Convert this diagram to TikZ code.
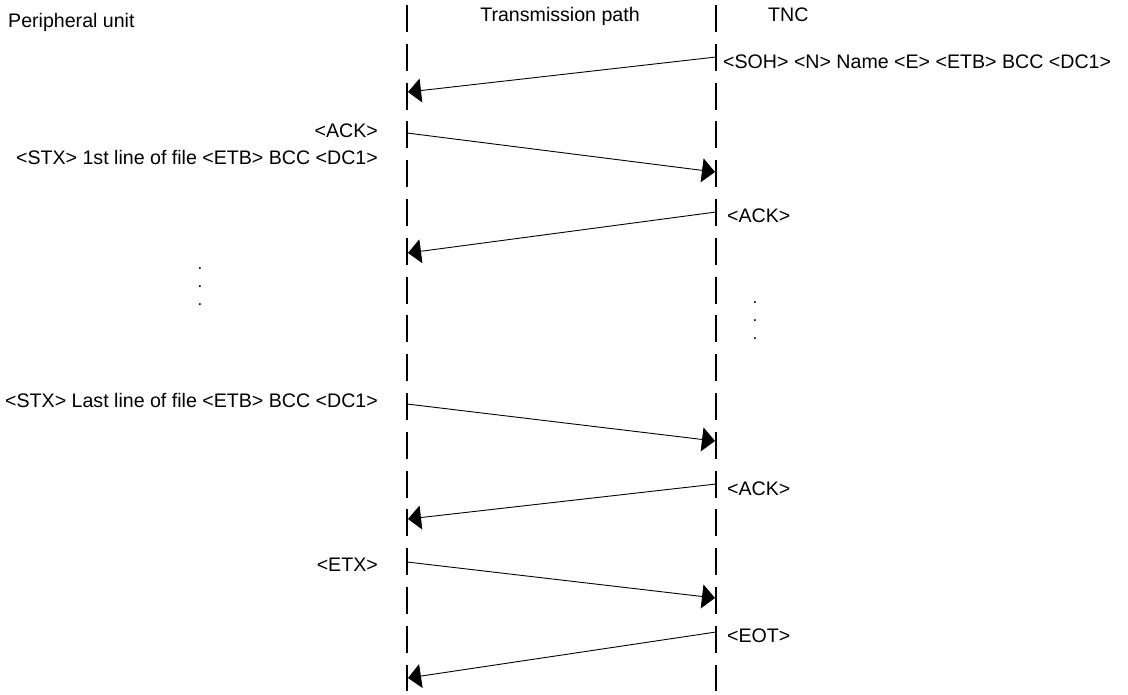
\documentclass[tikz,border=0pt]{standalone}
\usepackage{fontspec}
\setmainfont{Liberation Sans}
\usetikzlibrary{arrows.meta}
\begin{document}
\begin{tikzpicture}[x=1pt,y=-1pt,
  lbl/.style={inner sep=0pt,font=\fontsize{19.6}{23}\selectfont},
  lifeline/.style={line width=2.5pt,dash pattern=on 27pt off 11.8pt},
  msg/.style={line width=0.9pt,-{Triangle[length=13pt,width=24pt]}},
  dotstyle/.style={inner sep=0pt,font=\fontsize{17}{19}\selectfont}]
\useasboundingbox (0,0) rectangle (1128,694);
% lifelines
\coordinate (Ltop) at (407,5);
\coordinate (Lbot) at (407,691);
\coordinate (Rtop) at (716,5);
\coordinate (Rbot) at (716,691);
\draw[lifeline] (Ltop) -- (Lbot);
\draw[lifeline] (Rtop) -- (Rbot);
% headers
\node[lbl,anchor=base west] (hpu) at (8,27) {Peripheral unit};
\node[lbl,anchor=base] (htp) at (560,21) {Transmission path};
\node[lbl,anchor=base west] (htnc) at (768,21) {TNC};
% message end points
\coordinate (r1) at (716,57);  \coordinate (l1) at (408,92);
\coordinate (l2) at (407,133); \coordinate (r2) at (715,172);
\coordinate (r3) at (716,212); \coordinate (l3) at (408,253);
\coordinate (l4) at (407,404); \coordinate (r4) at (715,441);
\coordinate (r5) at (716,484); \coordinate (l5) at (408,519);
\coordinate (l6) at (407,562); \coordinate (r6) at (715,598);
\coordinate (r7) at (716,632); \coordinate (l7) at (408,678);
\draw[msg] (r1) -- (l1);
\draw[msg] (l2) -- (r2);
\draw[msg] (r3) -- (l3);
\draw[msg] (l4) -- (r4);
\draw[msg] (r5) -- (l5);
\draw[msg] (l6) -- (r6);
\draw[msg] (r7) -- (l7);
% labels
\node[lbl,anchor=base west] (t1) at (723,68) {<SOH> <N> Name <E> <ETB> BCC <DC1>};
\node[lbl,anchor=base east] (t2) at (378,137) {<ACK>};
\node[lbl,anchor=base east] (t3) at (378,164) {<STX> 1st line of file <ETB> BCC <DC1>};
\node[lbl,anchor=base west] (t4) at (727,222) {<ACK>};
\node[lbl,anchor=base east] (t5) at (378,407) {<STX> Last line of file <ETB> BCC <DC1>};
\node[lbl,anchor=base west] (t6) at (727,495) {<ACK>};
\node[lbl,anchor=base east] (t7) at (378,571) {<ETX>};
\node[lbl,anchor=base west] (t8) at (727,642) {<EOT>};
% dots
\foreach \yy [count=\i] in {269,287,305} {\node[dotstyle] (dl\i) at (200,\yy) {.};}
\foreach \yy [count=\i] in {303,321,339} {\node[dotstyle] (dr\i) at (755,\yy) {.};}
\end{tikzpicture}
\end{document}
